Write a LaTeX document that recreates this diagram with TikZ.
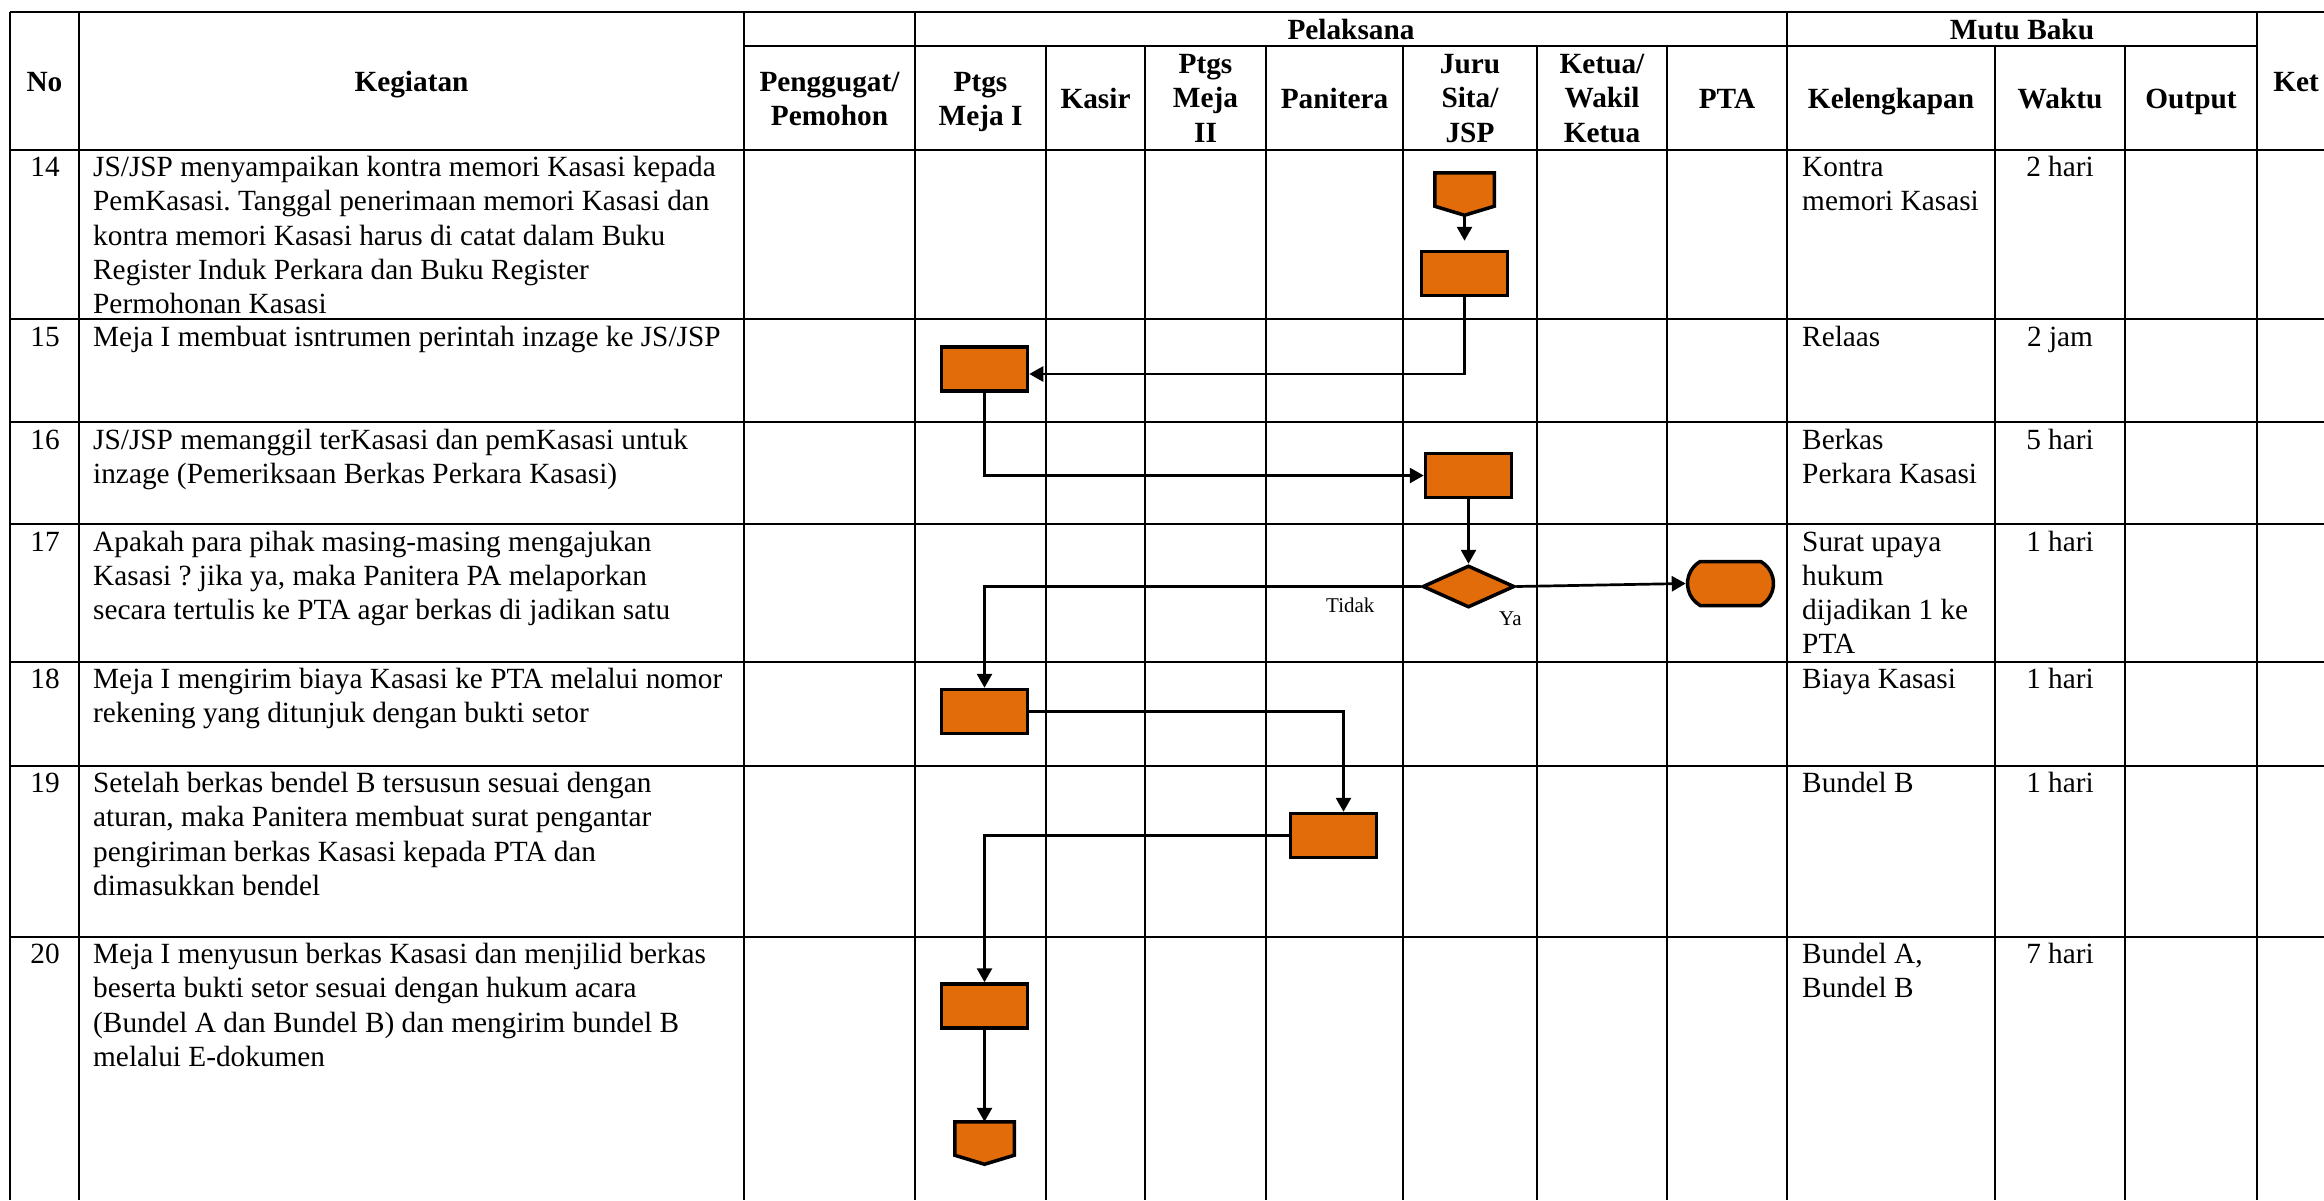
\documentclass[tikz,border=0pt]{standalone}
\usepackage{fontspec}
\setmainfont{Liberation Serif}
\usetikzlibrary{shapes.geometric,shapes.misc,arrows.meta}
\definecolor{flowfill}{HTML}{E36C0A}
\newcommand{\bodysize}{\fontsize{29.3pt}{34.3pt}\selectfont}
\newcommand{\labelsize}{\fontsize{21pt}{24pt}\selectfont}
% stacked lines whose reference point is the first baseline
\newcommand{\lft}[1]{\begin{tabular}[t]{@{}l@{}}#1\end{tabular}}
\newcommand{\ctr}[1]{\begin{tabular}[t]{@{}c@{}}#1\end{tabular}}
\frenchspacing

\begin{document}
\begin{tikzpicture}[x=1pt,y=-1pt,
  grid/.style={line width=1.3pt},
  cell/.style={anchor=base west, inner sep=0pt, font=\bodysize},
  ctext/.style={anchor=base, inner sep=0pt, font=\bodysize},
  head/.style={anchor=base, inner sep=0pt, font=\bodysize\bfseries},
  small/.style={anchor=base west, inner sep=0pt, font=\labelsize},
  proc/.style={rectangle, draw=black, line width=3.5pt, fill=flowfill, minimum width=86pt, minimum height=44pt, inner sep=0pt},
  decide/.style={diamond, draw=black, line width=3.5pt, fill=flowfill, minimum width=92pt, minimum height=42pt, inner sep=0pt},
  term/.style={rounded rectangle, rounded rectangle arc length=120, draw=black, line width=3.5pt, fill=flowfill, minimum width=86pt, minimum height=44pt, inner sep=0pt},
  pageref/.style={rectangle, inner sep=0pt, outer sep=0pt, minimum width=59.5pt, minimum height=42.5pt},
  pagepath/.style={draw=black, line width=3.5pt, fill=flowfill, line join=miter},
  flow/.style={line width=2.7pt, -{Triangle[length=14pt,width=15pt]}}
]
\useasboundingbox (0,0) rectangle (2324,1200);

% ---------- table rules ----------
\draw[grid] (10,12) -- (2324,12);
\draw[grid] (744,46) -- (2257,46);
\foreach \yy in {150,319,422,524,662,766,937}
  \draw[grid] (10,\yy) -- (2324,\yy);
\foreach \xx in {10,79,744,915,1787,2257}
  \draw[grid] (\xx,12) -- (\xx,1200);
\foreach \xx in {1046,1145,1266,1403,1537,1667,1995,2125}
  \draw[grid] (\xx,46) -- (\xx,1200);

% ---------- header ----------
\node[head] (hNo)   at (44.5,91)  {No};
\node[head] (hKeg)  at (411.5,91) {Kegiatan};
\node[head] (hKet)  at (2296,91)  {Ket};
\node[head] (hPel)  at (1351,39.5)  {Pelaksana};
\node[head] (hMutu) at (2022,39.5)  {Mutu Baku};
\node[head] (hPen)  at (829.5,91) {\ctr{Penggugat/\\Pemohon}};
\node[head] (hM1)   at (980.5,91) {\ctr{Ptgs\\Meja I}};
\node[head] (hKas)  at (1095.5,108)  {Kasir};
\node[head] (hM2)   at (1205.5,73.5) {\ctr{Ptgs\\Meja\\II}};
\node[head] (hPan)  at (1334.5,108)  {Panitera};
\node[head] (hJS)   at (1470,73.5)  {\ctr{Juru\\Sita/\\JSP}};
\node[head] (hKW)   at (1602,73.5)  {\ctr{Ketua/\\Wakil\\Ketua}};
\node[head] (hPTA)  at (1727,108)    {PTA};
\node[head] (hKel)  at (1891,108)    {Kelengkapan};
\node[head] (hWak)  at (2060,108)    {Waktu};
\node[head] (hOut)  at (2191,108)    {Output};

% ---------- numbers ----------
\node[ctext] (n14) at (45,176.5) {14};
\node[ctext] (n15) at (45,346) {15};
\node[ctext] (n16) at (45,449) {16};
\node[ctext] (n17) at (45,551) {17};
\node[ctext] (n18) at (45,688.5) {18};
\node[ctext] (n19) at (45,792.5) {19};
\node[ctext] (n20) at (45,963.5) {20};

% ---------- activities ----------
\node[cell] (k14) at (93,176.5) {\lft{JS/JSP menyampaikan kontra memori Kasasi kepada\\PemKasasi. Tanggal penerimaan memori Kasasi dan\\kontra memori Kasasi harus di catat dalam Buku\\Register Induk Perkara dan Buku Register\\Permohonan Kasasi}};
\node[cell] (k15) at (93,346) {Meja I membuat isntrumen perintah inzage ke JS/JSP};
\node[cell] (k16) at (93,449) {\lft{JS/JSP memanggil terKasasi dan pemKasasi untuk\\inzage (Pemeriksaan Berkas Perkara Kasasi)}};
\node[cell] (k17) at (93,551) {\lft{Apakah para pihak masing-masing mengajukan\\Kasasi ? jika ya, maka Panitera PA melaporkan\\secara tertulis ke PTA agar berkas di jadikan satu}};
\node[cell] (k18) at (93,688.5) {\lft{Meja I mengirim biaya Kasasi ke PTA melalui nomor\\rekening yang ditunjuk dengan bukti setor}};
\node[cell] (k19) at (93,792.5) {\lft{Setelah berkas bendel B tersusun sesuai dengan\\aturan, maka Panitera membuat surat pengantar\\pengiriman berkas Kasasi kepada PTA dan\\dimasukkan bendel}};
\node[cell] (k20) at (93,963.5) {\lft{Meja I menyusun berkas Kasasi dan menjilid berkas\\beserta bukti setor sesuai dengan hukum acara\\(Bundel A dan Bundel B) dan mengirim bundel B\\melalui E-dokumen}};

% ---------- requirements ----------
\node[cell] (l14) at (1802,176.5) {\lft{Kontra\\memori Kasasi}};
\node[cell] (l15) at (1802,346) {Relaas};
\node[cell] (l16) at (1802,449) {\lft{Berkas\\Perkara Kasasi}};
\node[cell] (l17) at (1802,551) {\lft{Surat upaya\\hukum\\dijadikan 1 ke\\PTA}};
\node[cell] (l18) at (1802,688.5) {Biaya Kasasi};
\node[cell] (l19) at (1802,792.5) {Bundel B};
\node[cell] (l20) at (1802,963.5) {\lft{Bundel A,\\Bundel B}};

% ---------- time ----------
\node[ctext] (w14) at (2060,176.5) {2 hari};
\node[ctext] (w15) at (2060,346) {2 jam};
\node[ctext] (w16) at (2060,449) {5 hari};
\node[ctext] (w17) at (2060,551) {1 hari};
\node[ctext] (w18) at (2060,688.5) {1 hari};
\node[ctext] (w19) at (2060,792.5) {1 hari};
\node[ctext] (w20) at (2060,963.5) {7 hari};

% ---------- flowchart symbols ----------
\node[pageref] (p1) at (1464.5,194) {};
\path[pagepath] (p1.north west) -- (p1.north east) -- ([yshift=9pt]p1.south east)
  -- (p1.south) -- ([yshift=9pt]p1.south west) -- cycle;
\node[proc] (r14) at (1464.5,273.5) {};
\node[proc] (r15) at (984.5,369) {};
\node[proc] (r16) at (1468.5,475.5) {};
\node[decide] (dia) at (1468.5,586.5) {};
\node[term] (end) at (1730.5,583.5) {};
\node[proc] (r18) at (984.5,711.5) {};
\node[proc] (r19) at (1333.5,835.5) {};
\node[proc] (r20) at (984.5,1006) {};
\node[pageref] (p2) at (984.5,1143) {};
\path[pagepath] (p2.north west) -- (p2.north east) -- ([yshift=9pt]p2.south east)
  -- (p2.south) -- ([yshift=9pt]p2.south west) -- cycle;

% ---------- connectors ----------
\draw[flow, shorten >=9pt] (p1.south) -- (r14.north);
\draw[flow] (r14.south) |- ([yshift=-5pt]r15.east);
\draw[flow] (r15.south) |- (r16.west);
\draw[flow] (r16.south) -- (dia.north);
\draw[flow] (dia.east) -- (end.west);
\draw[flow] (dia.west) -| (r18.north);
\draw[flow] (r18.east) -| ([xshift=10pt]r19.north);
\draw[flow] (r19.west) -| (r20.north);
\draw[flow] (r20.south) -- (p2.north);

\node[small] (tidak) at (1326,612) {Tidak};
\node[small] (ya) at (1499,625) {Ya};
\end{tikzpicture}
\end{document}
